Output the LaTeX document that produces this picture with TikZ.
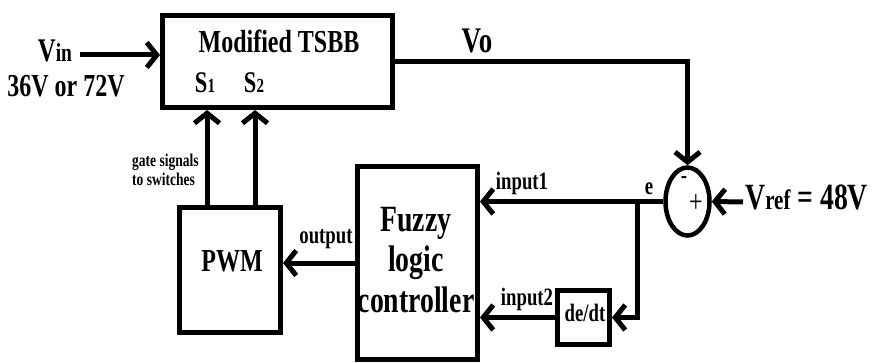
\documentclass[tikz,border=0pt]{standalone}
\usepackage{fontspec}
\setmainfont{Liberation Serif}[FakeStretch=0.75]
\usetikzlibrary{arrows.meta, shapes.geometric, positioning}
\newcommand{\fsz}[1]{\fontsize{#1}{#1}\selectfont}
\tikzset{
  blockbox/.style={draw, line width=5pt, inner sep=0pt},
  sigline/.style={line width=5pt, -{Straight Barb[length=10pt, width=25pt]}},
  lbl/.style={inner sep=0pt, anchor=base}
}

\begin{document}
\begin{tikzpicture}[x=1pt, y=-1pt]
\useasboundingbox (0,0) rectangle (874,363);
% blocks
\node[blockbox, minimum width=230pt, minimum height=92pt] (tsbb) at (277.5,61.5) {};
\node[blockbox, minimum width=101pt, minimum height=125pt] (pwm) at (230,270) {};
\node[blockbox, minimum width=120pt, minimum height=193pt] (flc) at (417.5,263) {};
\node[blockbox, minimum width=52pt, minimum height=54pt] (dedt) at (583.5,317.5) {};
\node[draw, ellipse, line width=4.5pt, minimum width=44pt, minimum height=68pt, inner sep=0pt] (sum) at (687.5,201.5) {};
% texts
\node[lbl, font=\bfseries\fsz{32}] (title) at (279,53) {Modified TSBB};
\node[lbl, font=\bfseries\fsz{30}] (s1) at (205,93) {S{\fsz{20}1}};
\node[lbl, font=\bfseries\fsz{30}] (s2) at (254,93) {S{\fsz{20}2}};
\node[lbl, font=\bfseries\fsz{32}] (pwmtext) at (232,271) {PWM};
\node[inner sep=0pt, align=center, font=\bfseries\fontsize{37}{40.5}\selectfont] (flctext) at (416,260) {Fuzzy\\logic\\controller};
\node[lbl, font=\bfseries\fsz{25}] (dedttext) at (585,321) {de/dt};
\node[inner sep=0pt, font=\bfseries\fsz{25}] (minus) at (684,180) {-};
\node[inner sep=0pt, font=\fsz{32}] (plus) at (696,203) {+};
\node[lbl, font=\bfseries\fsz{33}] (vin) at (55,62) {V{\fsz{26}in}};
\node[lbl, font=\bfseries\fsz{32}] (vinval) at (66,97) {36V or 72V};
\node[lbl, font=\bfseries\fsz{36}] (vo) at (477,53) {Vo};
\node[lbl, anchor=base west, font=\bfseries\fsz{37}] (vref) at (745,210) {V{\fsz{28}ref} = 48V};
\node[lbl, font=\bfseries\fsz{25}] (in1) at (522,190) {input1};
\node[lbl, font=\bfseries\fsz{25}] (in2) at (527,305) {input2};
\node[lbl, font=\bfseries\fsz{25}] (err) at (649,195) {e};
\node[lbl, font=\bfseries\fsz{25}] (out) at (326,243) {output};
\node[anchor=north west, inner sep=0pt, align=left, font=\bfseries\fontsize{18}{19}\selectfont] (gate) at (132,154) {gate signals\\to switches};
% connectors
\coordinate (vinend) at (80,55);
\coordinate (vrefend) at (743,202);
\coordinate (g1) at (207,0);
\coordinate (g2) at (255,0);
\coordinate (br) at (637,0);
\draw[sigline] (vinend) -- (tsbb.west |- vinend);
\draw[sigline] (pwm.north -| g1) -- (tsbb.south -| g1);
\draw[sigline] (pwm.north -| g2) -- (tsbb.south -| g2);
\draw[sigline] (tsbb.east) -| (sum.north);
\draw[sigline] (vrefend) -- (sum.east);
\draw[sigline] (sum.west) -- (flc.east |- sum.west);
\draw[sigline] (sum.west -| br) |- (dedt.east);
\draw[sigline] (dedt.west) -- (flc.east |- dedt.west);
\draw[sigline] (flc.west) -- (pwm.east |- flc.west);
\end{tikzpicture}
\end{document}
